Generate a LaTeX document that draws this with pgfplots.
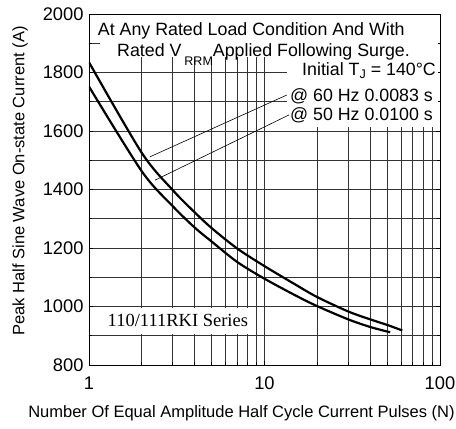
\documentclass[border=0pt]{standalone}
\usepackage{pgfplots}
\pgfplotsset{compat=1.18}
\usepackage{fontspec}
\setmainfont{Liberation Sans}
\newfontfamily\timesfont{Liberation Serif}
\begin{document}
\begin{tikzpicture}
\begin{axis}[
  at={(0,0)}, anchor=south west,
  scale only axis, width=351pt, height=351pt,
  xmode=log, xmin=1, xmax=100, ymin=800, ymax=2000,
  xtick={1,10,100}, xticklabels={1,10,100},
  ytick={800,1000,...,2000}, yticklabels={800,1000,1200,1400,1600,1800,2000},
  minor ytick={900,1100,...,1900},
  grid=both,
  major grid style={black!80, line width=0.8pt},
  minor grid style={black!80, line width=0.8pt},
  axis line style={black, line width=0.9pt},
  tick style={black, line width=0.8pt},
  tick label style={font=\fontsize{18.3}{20}\selectfont},
  xticklabel shift=8pt, yticklabel shift=2pt,
  xlabel={Number Of Equal Amplitude Half Cycle Current Pulses (N)},
  ylabel={Peak Half Sine Wave On-state Current (A)},
  every axis x label/.style={at={(axis description cs:0.4345,-0.1368)}, anchor=center, font=\fontsize{16.5}{18}\selectfont},
  every axis y label/.style={at={(axis description cs:-0.1966,0.524)}, anchor=center, rotate=90, font=\fontsize{16.5}{18}\selectfont},
]
% white boxes behind annotations
\fill[white] (axis cs:1.155,1853) rectangle (axis cs:97,1997);
\fill[white] (axis cs:13.4,1612) rectangle (axis cs:97,1853);
\fill[white] (axis cs:1.02,906) rectangle (axis cs:8.8,994);

\addplot[black, line width=2.2pt, smooth] coordinates {
(1,1835) (2,1525) (3,1398) (4,1322) (5,1268) (7,1198) (10,1138) (15,1075) (20,1032) (30,983) (40,956) (50,937) (61,918)
};
\addplot[black, line width=2.2pt, smooth] coordinates {
(1,1752) (2,1462) (3,1343) (4,1270) (5,1222) (7,1152) (10,1095) (15,1038) (20,1001) (30,956) (40,930) (52,912)
};

\draw[black, line width=0.6pt] (axis cs:13.4,1723) -- (axis cs:2.23,1512);
\draw[black, line width=0.6pt] (axis cs:13.8,1655) -- (axis cs:2.38,1432);

\node[anchor=base, inner sep=0pt, font=\fontsize{17.8}{19}\selectfont] at (axis cs:8.41,1925) {At Any Rated Load Condition And With};
\node[anchor=base, inner sep=0pt, font=\fontsize{17.8}{19}\selectfont] at (axis cs:9.87,1856) {Rated V\,\raisebox{-9pt}{\fontsize{12.5}{13}\selectfont RRM}Applied Following Surge.};
\node[anchor=base east, inner sep=0pt, font=\fontsize{17.8}{19}\selectfont] at (axis cs:94.9,1791) {Initial T\raisebox{-3pt}{\fontsize{12.5}{13}\selectfont J} = 140°C};
\node[anchor=base east, inner sep=0pt, font=\fontsize{17.8}{19}\selectfont] at (axis cs:91.3,1700) {@ 60 Hz 0.0083 s};
\node[anchor=base east, inner sep=0pt, font=\fontsize{17.8}{19}\selectfont] at (axis cs:91.3,1635) {@ 50 Hz 0.0100 s};
\node[anchor=base, inner sep=0pt, font=\timesfont\fontsize{18.5}{20}\selectfont] at (axis cs:3.21,931) {110/111RKI Series};
\end{axis}
\pgfresetboundingbox
\path (-89pt,-64pt) rectangle (367pt,365pt);
\end{tikzpicture}
\end{document}
